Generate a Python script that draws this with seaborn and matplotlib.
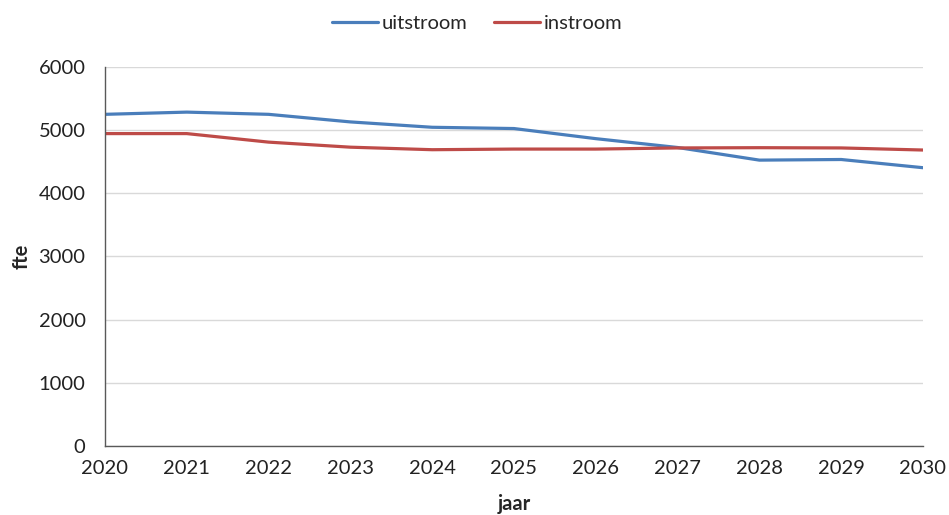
import matplotlib

matplotlib.use("Agg")

import matplotlib.pyplot as plt
import seaborn as sns
import pandas as pd

# -----------------------------
# Data
# -----------------------------
jaren = [2020, 2021, 2022, 2023, 2024, 2025, 2026, 2027, 2028, 2029, 2030]
uitstroom = [5250, 5285, 5250, 5130, 5045, 5025, 4865, 4725, 4525, 4535, 4405]
instroom = [4945, 4945, 4810, 4730, 4690, 4700, 4700, 4718, 4722, 4718, 4685]

series_names = ["uitstroom", "instroom"]
colors = ["#4a7ebb", "#be4b48"]

df = pd.DataFrame({"jaar": jaren, "uitstroom": uitstroom, "instroom": instroom})
long_df = df.melt(id_vars="jaar", var_name="reeks", value_name="fte")

# -----------------------------
# Style
# -----------------------------
sns.set_theme(style="white")
plt.rcParams["font.family"] = ["Lato", "DejaVu Sans"]

fig = plt.figure(figsize=(9.49, 5.15), dpi=100)
ax = fig.add_axes([0.1106, 0.134, 0.862, 0.736])

sns.lineplot(
    data=long_df,
    x="jaar",
    y="fte",
    hue="reeks",
    hue_order=series_names,
    palette=colors,
    linewidth=2.3,
    ax=ax,
)

ax.set_xlim(2020, 2030)
ax.set_ylim(0, 6000)
ax.set_xticks(jaren)
ax.set_yticks(range(0, 6001, 1000))
ax.tick_params(axis="both", labelsize=14.5, colors="#222222")
ax.tick_params(axis="x", direction="out", length=5, width=1, color="#595959", pad=5)
ax.tick_params(axis="y", length=0, pad=14)

ax.yaxis.grid(True, color="#d9d9d9", linewidth=1)
ax.set_axisbelow(True)

for side in ["top", "right"]:
    ax.spines[side].set_visible(False)
for side in ["left", "bottom"]:
    ax.spines[side].set_color("#595959")
    ax.spines[side].set_linewidth(1)

ax.set_xlabel("jaar", fontsize=14.5, fontweight="bold", labelpad=12)
ax.set_ylabel("fte", fontsize=14.5, fontweight="bold", labelpad=5)

ax.legend(
    loc="lower center",
    bbox_to_anchor=(0.455, 1.045),
    ncol=2,
    frameon=False,
    fontsize=14.5,
    handlelength=2.3,
    handletextpad=0.2,
    columnspacing=1.3,
)

fig.savefig("out.png", dpi=100)
plt.close(fig)
